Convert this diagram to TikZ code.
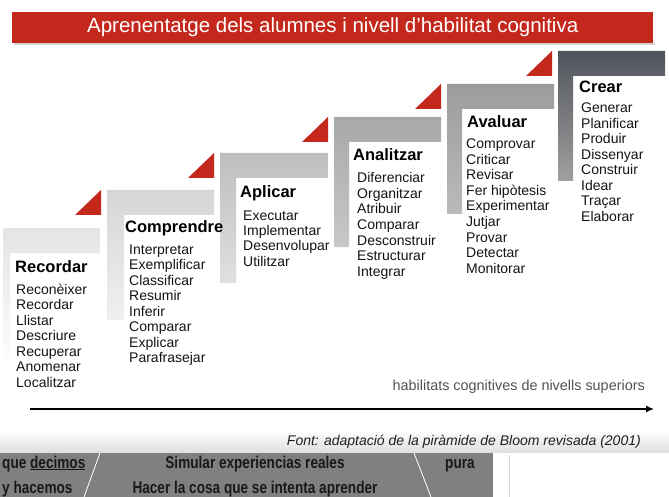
\documentclass[tikz,border=0pt]{standalone}
\usepackage{fontspec}
\setmainfont{Liberation Sans}
\newfontfamily\narrowfont[FakeStretch=0.8]{Liberation Sans}
\usetikzlibrary{arrows.meta}
\definecolor{tred}{RGB}{196,40,28}
\definecolor{sa1}{RGB}{228,228,228}\definecolor{sb1}{RGB}{252,252,252}
\definecolor{sa2}{RGB}{214,214,214}\definecolor{sb2}{RGB}{240,240,240}
\definecolor{sa3}{RGB}{190,190,190}\definecolor{sb3}{RGB}{224,224,224}
\definecolor{sa4}{RGB}{168,168,168}\definecolor{sb4}{RGB}{200,200,200}
\definecolor{sa5}{RGB}{156,156,156}\definecolor{sb5}{RGB}{186,186,186}
\definecolor{sa6}{RGB}{80,84,91}\definecolor{sb6}{RGB}{160,160,160}
\definecolor{strip}{RGB}{128,128,128}
\tikzset{
  item/.style={anchor=base west, inner sep=0pt, text=black!92, font=\fontsize{14}{15.5}\selectfont},
  head/.style={anchor=base west, inner sep=0pt, text=black, font=\bfseries\fontsize{16.5}{18}\selectfont},
  striptext/.style={inner sep=0pt, text=black!90, font=\narrowfont\bfseries\fontsize{17}{19}\selectfont},
  tri/.style={fill=tred},
}
\begin{document}
\begin{tikzpicture}[x=1pt,y=-1pt]
\useasboundingbox (0,0) rectangle (669,497);
\fill[white] (0,0) rectangle (669,497);
% title
\fill[black!18] (14,43) rectangle (655,45);
\node[fill=tred, minimum width=641, minimum height=31, anchor=north west, inner sep=0pt,
      text=white, font=\fontsize{20.5}{22}\selectfont] (title) at (12,12)
      {Aprenentatge dels alumnes i nivell d’habilitat cognitiva};
% steps
\foreach \L/\T/\vw/\ca/\cb/\sw in {3/228/7/sa1/sb1/97, 107/190/17/sa2/sb2/107, 220/153/16/sa3/sb3/108,
   334/117/15/sa4/sb4/107, 447/84/15/sa5/sb5/107, 558/51/15/sa6/sb6/107}{
  \shade[top color=\ca, bottom color=\cb] (\L,\T) -- (\L+\sw,\T) -- (\L+\sw,\T+25) -- (\L+\vw,\T+25)
     -- (\L+\vw,\T+130) -- (\L,\T+130) -- cycle;
}
\foreach \L/\T in {107/190, 220/153, 334/117, 447/84, 558/51}{
  \fill[tri] (\L-32,\T+25) -- (\L-6,\T+25) -- (\L-6,\T) -- cycle;
}
% headings
\node[head] (h1) at (15,272.5) {Recordar};
\node[head] (h2) at (125,233) {Comprendre};
\node[head] (h3) at (240,197) {Aplicar};
\node[head] (h4) at (353,161) {Analitzar};
\node[head] (h5) at (467,128) {Avaluar};
\node[head] (h6) at (579,93) {Crear};
% item lists
\foreach \sx/\sy/\lst [count=\k] in {
  16/294/{Reconèixer,Recordar,Llistar,Descriure,Recuperar,Anomenar,Localitzar},
  129/254/{Interpretar,Exemplificar,Classificar,Resumir,Inferir,Comparar,Explicar,Parafrasejar},
  243/220/{Executar,Implementar,Desenvolupar,Utilitzar},
  357/183/{Diferenciar,Organitzar,Atribuir,Comparar,Desconstruir,Estructurar,Integrar},
  466/149/{Comprovar,Criticar,Revisar,Fer hipòtesis,Experimentar,Jutjar,Provar,Detectar,Monitorar},
  581/113/{Generar,Planificar,Produir,Dissenyar,Construir,Idear,Traçar,Elaborar}}{
  \foreach \w [count=\j] in \lst {
    \node[item] (it-\k-\j) at (\sx,\sy+15.5*\j-15.5) {\w};
  }
}
% arrow
\node[anchor=base east, inner sep=0pt, text=black!68, font=\fontsize{14.4}{16}\selectfont] (hab) at (645,390)
   {habilitats cognitives de nivells superiors};
\coordinate (a1) at (30,409);
\coordinate (a2) at (654,409);
\draw[line width=1.3pt, -{Latex[length=8pt,width=7pt]}] (a1) -- (a2);
% source
\shade[top color=white, bottom color=black!13] (0,430) rectangle (669,453);
\node[anchor=base east, inner sep=0pt, text=black!88, font=\itshape\fontsize{14}{16}\selectfont] (src) at (641,445)
   {Font: adaptació de la piràmide de Bloom revisada (2001)};
% bottom strip
\fill[strip] (0,453) rectangle (493,497);
\fill[white] (493,453) rectangle (669,497);
\draw[black!15] (509,455) -- (509,497);
\coordinate (d1) at (100,453); \coordinate (d2) at (84,497);
\coordinate (d3) at (414,453); \coordinate (d4) at (431,497);
\draw[white, line width=0.8pt] (d1) -- (d2);
\draw[white, line width=0.8pt] (d3) -- (d4);
\node[striptext, anchor=base west] (b1) at (2,468) {que \underline{decimos}};
\node[striptext, anchor=base west] (b2) at (2,493) {\underline{y hacemos}};
\node[striptext, anchor=base] (b3) at (255,468) {Simular experiencias reales};
\node[striptext, anchor=base] (b4) at (255,493) {Hacer la cosa que se intenta aprender};
\node[striptext, anchor=base west] (b5) at (445,468) {pura};
\end{tikzpicture}
\end{document}
